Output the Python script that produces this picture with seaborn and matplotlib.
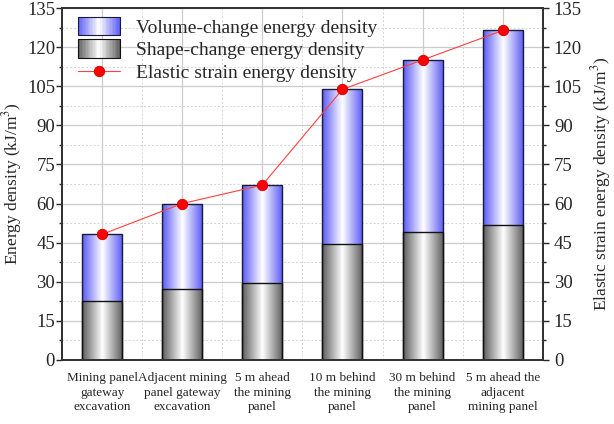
import numpy as np
import pandas as pd
import matplotlib
matplotlib.use('Agg')
import matplotlib.pyplot as plt
import seaborn as sns
from matplotlib.colors import LinearSegmentedColormap
from matplotlib.legend_handler import HandlerBase
from matplotlib.patches import Rectangle
from matplotlib.lines import Line2D
from matplotlib.ticker import MultipleLocator

categories = ['Mining panel\ngateway\nexcavation',
              'Adjacent mining\npanel gateway\nexcavation',
              '5 m ahead\nthe mining\npanel',
              '10 m behind\nthe mining\npanel',
              '30 m behind\nthe mining\npanel',
              '5 m ahead the\nadjacent\nmining panel']
shape_change = [22.6, 27.2, 29.4, 44.4, 49.0, 51.8]
total_energy = [48.2, 60.0, 67.1, 103.8, 115.1, 126.4]

sns.set_style('white')
plt.rcParams['font.family'] = ['Liberation Serif', 'DejaVu Serif']
plt.rcParams['mathtext.fontset'] = 'stix'

df = pd.DataFrame({'cat': categories, 'shape': shape_change, 'total': total_energy})

blue_cmap = LinearSegmentedColormap.from_list('bl', ['#5a5af5', '#ffffff', '#5a5af5'])
gray_cmap = LinearSegmentedColormap.from_list('gr', ['#5c5c5c', '#ffffff', '#5c5c5c'])
grad = np.linspace(0, 1, 200).reshape(1, -1)

fig = plt.figure(figsize=(6.14, 4.24), dpi=100)
ax = fig.add_axes([0.101, 0.151, 0.783, 0.830])

sns.barplot(data=df, x='cat', y='total', ax=ax, width=0.5, color='white',
            edgecolor='#1a1a3a', linewidth=1.0)
n_tot = len(ax.patches)
sns.barplot(data=df, x='cat', y='shape', ax=ax, width=0.5, color='white',
            edgecolor='#111111', linewidth=1.0)

for i, p in enumerate(ax.patches):
    cmap = blue_cmap if i < n_tot else gray_cmap
    x0, y0 = p.get_x(), p.get_y()
    w, h = p.get_width(), p.get_height()
    im = ax.imshow(grad, extent=[x0, x0 + w, y0, y0 + h], cmap=cmap,
                   aspect='auto', zorder=p.get_zorder() - 0.05 + i * 0.001)
    im.set_clip_path(p)
    p.set_facecolor('none')
    p.set_zorder(p.get_zorder() + 0.01 + i * 0.001)

ax.set_xlim(-0.5, 5.5)
ax.set_ylim(0, 135)
ax.yaxis.set_major_locator(MultipleLocator(15))
ax.yaxis.set_minor_locator(MultipleLocator(7.5))
ax.xaxis.set_minor_locator(MultipleLocator(1, offset=0.5))
ax.set_axisbelow(True)
ax.grid(which='major', axis='both', color='#cccccc', linewidth=0.9, linestyle='-')
ax.grid(which='minor', axis='both', color='#d5d5d5', linewidth=0.7, linestyle=(0, (2, 2)))
ax.set_xlabel('')
ax.set_ylabel('Energy density (kJ/m$^3$)', fontsize=12.5, labelpad=2)
ax.tick_params(axis='y', which='major', direction='out', length=4, width=1.0,
               labelsize=13.5, left=True, pad=1)
ax.tick_params(axis='y', which='minor', direction='out', length=2.5, width=1.0, left=True)
ax.tick_params(axis='x', which='both', length=0, labelsize=9.5, pad=9)
for lab in ax.get_xticklabels():
    lab.set_linespacing(1.25)
for s in ax.spines.values():
    s.set_color('#333333')
    s.set_linewidth(1.3)

ax2 = ax.twinx()
sns.lineplot(x=np.arange(len(categories)), y=total_energy, ax=ax2, color='#ff4040',
             linewidth=0.8, marker='o', markersize=7.5, markerfacecolor='#ff0000',
             markeredgecolor='#cc0000', markeredgewidth=0.6)
ax2.set_ylim(0, 135)
ax2.set_xlim(-0.5, 5.5)
ax2.yaxis.set_major_locator(MultipleLocator(15))
ax2.yaxis.set_minor_locator(MultipleLocator(7.5))
ax2.set_ylabel('Elastic strain energy density (kJ/m$^3$)', fontsize=12.5, labelpad=5)
ax2.tick_params(axis='y', which='major', direction='out', length=4, width=1.0,
                labelsize=13.5, right=True, pad=4)
ax2.tick_params(axis='y', which='minor', direction='out', length=2.5, width=1.0, right=True)
for s in ax2.spines.values():
    s.set_color('#333333')
    s.set_linewidth(1.3)


class GradientHandler(HandlerBase):
    def __init__(self, cmap, edge):
        super().__init__()
        self.cmap = cmap
        self.edge = edge

    def create_artists(self, legend, orig_handle, xdescent, ydescent, width,
                       height, fontsize, trans):
        arts = []
        n = 30
        for k in range(n):
            c = self.cmap((k + 0.5) / n)
            r = Rectangle((-xdescent + width * k / n, -ydescent - 1), width / n + 0.3,
                          height + 2, facecolor=c, edgecolor='none', transform=trans)
            arts.append(r)
        arts.append(Rectangle((-xdescent, -ydescent - 1), width, height + 2,
                              facecolor='none', edgecolor=self.edge, linewidth=0.8,
                              transform=trans))
        return arts


h_vol = Rectangle((0, 0), 1, 1)
h_shape = Rectangle((0, 0), 1, 1)
h_line = Line2D([], [], color='#ff4040', linewidth=0.8, marker='o', markersize=7.5,
                markerfacecolor='#ff0000', markeredgecolor='#cc0000', markeredgewidth=0.6)
leg = ax2.legend([h_vol, h_shape, h_line],
                 ['Volume-change energy density', 'Shape-change energy density',
                  'Elastic strain energy density'],
                 handler_map={h_vol: GradientHandler(blue_cmap, '#1a1a3a'),
                              h_shape: GradientHandler(gray_cmap, '#111111')},
                 loc='upper left', bbox_to_anchor=(0.008, 1.005), frameon=False,
                 fontsize=14, handlelength=2.2, handleheight=0.9, handletextpad=0.8,
                 labelspacing=0.2, borderaxespad=0.2)

fig.savefig('out.png', dpi=100)
